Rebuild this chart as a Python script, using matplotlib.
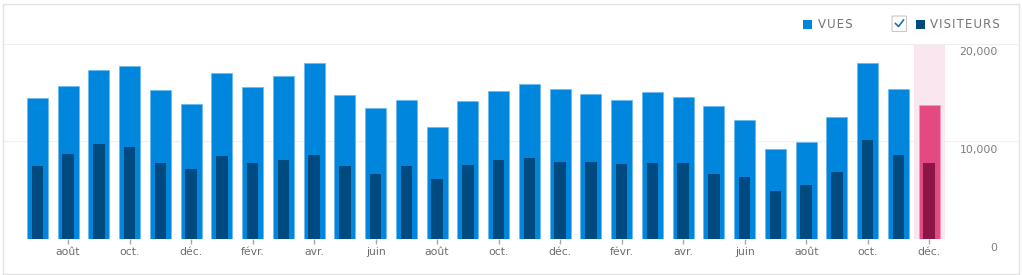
import numpy as np
import matplotlib
matplotlib.use("Agg")
import matplotlib.pyplot as plt
from matplotlib.patches import Rectangle, FancyBboxPatch
from matplotlib.lines import Line2D
from matplotlib.transforms import offset_copy

# Données (mois de juillet à décembre, 30 mois)
mois = ["juil.", "août", "sept.", "oct.", "nov.", "déc.",
        "janv.", "févr.", "mars", "avr.", "mai", "juin",
        "juil.", "août", "sept.", "oct.", "nov.", "déc.",
        "janv.", "févr.", "mars", "avr.", "mai", "juin",
        "juil.", "août", "sept.", "oct.", "nov.", "déc."]
vues = [14460, 15680, 17310, 17720, 15270, 13840,
        16940, 15580, 16670, 17960, 14690, 13430,
        14180, 11460, 14080, 15100, 15850, 15370,
        14800, 14220, 15040, 14560, 13610, 12140,
        9220, 9900, 12450, 17990, 15370, 13670]
visiteurs = [7450, 8670, 9690, 9420, 7820, 7140,
             8470, 7760, 8100, 8640, 7450, 6670,
             7480, 6120, 7590, 8100, 8300, 7860,
             7860, 7690, 7820, 7760, 6700, 6390,
             4900, 5510, 6840, 10100, 8570, 7790]
graduations_y = [0, 10000, 20000]
libelles_y = ["0", "10,000", "20,000"]

BLEU = "#0086dd"
BLEU_FONCE = "#004a7f"
ROSE = "#e44a82"
ROSE_FONCE = "#8c1447"
GRIS_TEXTE = "#6e6e6e"

W, H = 1022, 275
fig = plt.figure(figsize=(W / 100, H / 100), dpi=100)
fig.patch.set_facecolor("white")

ax = fig.add_axes([3 / W, 36 / H, 1015 / W, 195.5 / H])
ax.set_facecolor("none")

n = len(vues)
x = np.arange(n)
couleurs_vues = [BLEU] * (n - 1) + [ROSE]
couleurs_vis = [BLEU_FONCE] * (n - 1) + [ROSE_FONCE]
bords = ["#6ab8ee"] * (n - 1) + ["#f29ab9"]

# Mois courant en surbrillance
ax.axvspan(n - 1.5, n - 0.5, color="#f9e6ee", zorder=0, lw=0)

for yv in graduations_y:
    ax.axhline(yv, color="#efefef", lw=0.8, zorder=0.5)

ax.bar(x, vues, width=0.68, color=couleurs_vues, edgecolor=bords, linewidth=0.5, zorder=2)
ax.bar(x, visiteurs, width=0.37, color=couleurs_vis, linewidth=0, zorder=3)

ax.set_xlim(-1.117, 31.89)
ax.set_ylim(0, 20000)

ax.set_xticks(x[1::2])
ax.set_xticklabels(mois[1::2], fontsize=7.8, color=GRIS_TEXTE)
ax.tick_params(axis="x", length=3.5, width=1, color="#a8a8a8", pad=2.5)
ax.set_yticks([])
for s in ax.spines.values():
    s.set_visible(False)

# Libellés de l'axe y (à droite, sous la ligne de grille)
trans = offset_copy(ax.get_yaxis_transform(), fig=fig, y=-9, units="dots")
for yv, lab in zip(graduations_y, libelles_y):
    ax.text(0.980, yv, lab, transform=trans, ha="right", va="center",
            fontsize=7.8, color="#7d7d7d")

# Légende
def px(xp, yp):
    return xp / W, 1 - yp / H

def espace(txt):
    # espacement des lettres
    return "\u200a".join(txt)

fig.patches.append(Rectangle(px(803, 29), 9 / W, 9 / H, transform=fig.transFigure,
                             color=BLEU, lw=0))
fig.text(*px(818, 25), espace("VUES"), fontsize=8.5, color="#747474", va="center", ha="left")

fig.patches.append(FancyBboxPatch(px(892, 31.5), 14.5 / W, 15.5 / H,
                                  boxstyle="round,pad=0,rounding_size=0.002",
                                  transform=fig.transFigure, facecolor="white",
                                  edgecolor="#c9c9c9", lw=0.8))
xs = [895.5, 898.5, 903.5]
ys = [23.5, 26.5, 20]
fig.lines.append(Line2D([a / W for a in xs], [1 - b / H for b in ys],
                        transform=fig.transFigure, color="#1f6fb2", lw=1.2))
fig.patches.append(Rectangle(px(915.5, 29), 9.5 / W, 9 / H, transform=fig.transFigure,
                             color=BLEU_FONCE, lw=0))
fig.text(*px(930, 25), espace("VISITEURS"), fontsize=8.5, color="#747474", va="center", ha="left")

# Cadre
fig.patches.append(Rectangle(px(2.5, 274), 1016 / W, 270 / H, transform=fig.transFigure,
                             fill=False, edgecolor="#e2e2e2", lw=1))

fig.savefig("out.png", dpi=100, facecolor="white")
